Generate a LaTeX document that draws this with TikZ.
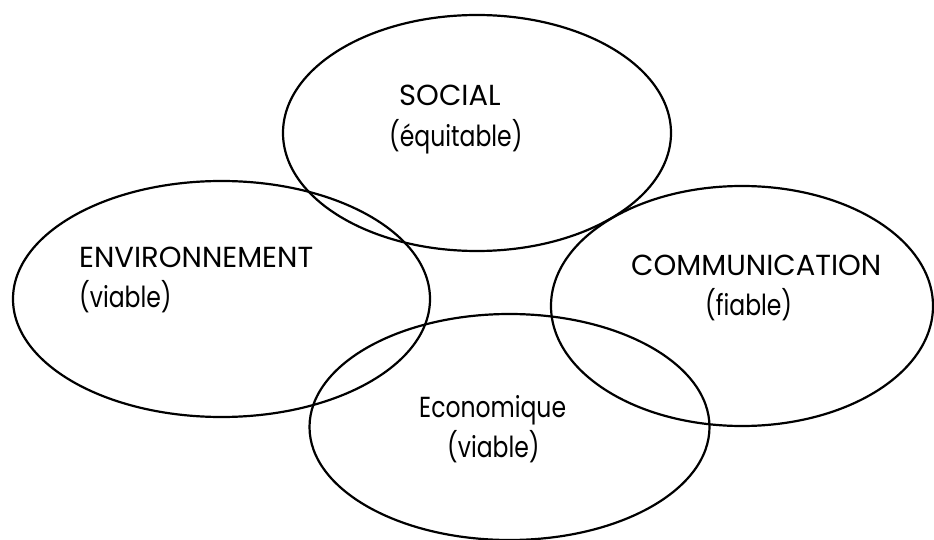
\documentclass[tikz,border=0pt]{standalone}
\usepackage{fontspec}
\setmainfont{Poppins}
\newfontfamily\narrowface[FakeStretch=0.81]{Poppins}
\begin{document}
\begin{tikzpicture}[x=1pt,y=-1pt,
  ring/.style={draw=black,line width=2.2pt},
  lbl/.style={anchor=base west,inner sep=0pt,font=\fontsize{29}{29}\selectfont},
  sublbl/.style={lbl,font=\fontsize{29}{29}\selectfont\narrowface}]
\useasboundingbox (0,0) rectangle (934,540);
% the four overlapping domains
\draw[ring] (477,133) ellipse [x radius=194,y radius=118];
\draw[ring] (221.5,299) ellipse [x radius=208.5,y radius=118];
\draw[ring] (742,306) ellipse [x radius=191,y radius=120];
\draw[ring] (509.5,427) ellipse [x radius=200,y radius=113];
% labels
\node[lbl] (soc) at (399,106) {SOCIAL};
\node[sublbl] (socq) at (389,147) {(équitable)};
\node[lbl] (env) at (79,267) {ENVIRONNEMENT};
\node[sublbl] (envq) at (79,307) {(viable)};
\node[lbl] (com) at (631,275) {COMMUNICATION};
\node[sublbl] (comq) at (705,315) {(fiable)};
\node[sublbl] (eco) at (419,417) {Economique};
\node[sublbl] (ecoq) at (447,457) {(viable)};
\end{tikzpicture}
\end{document}
